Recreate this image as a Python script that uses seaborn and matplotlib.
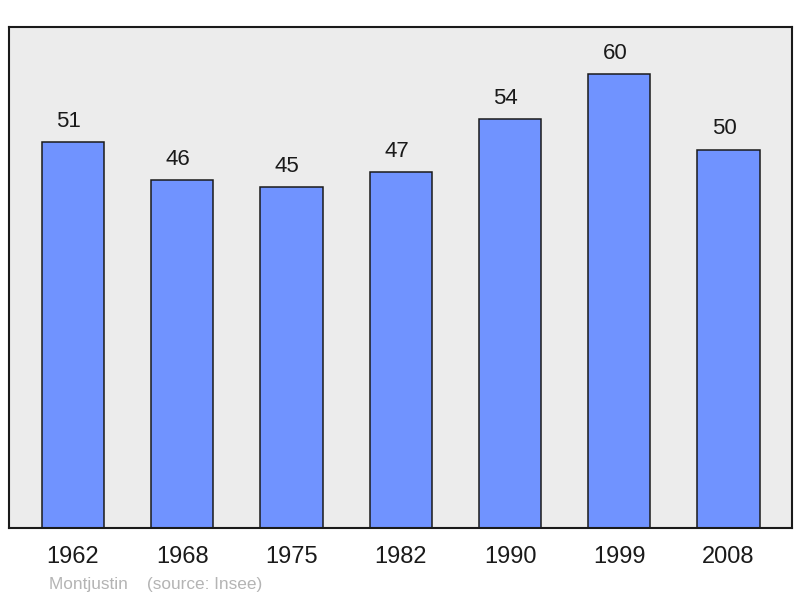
import matplotlib
matplotlib.use("Agg")
import matplotlib.pyplot as plt
import seaborn as sns
import pandas as pd

years = ["1962", "1968", "1975", "1982", "1990", "1999", "2008"]
population = [51, 46, 45, 47, 54, 60, 50]

sns.set_style("white")
plt.rcParams['font.family'] = ['Liberation Sans', 'DejaVu Sans']

df = pd.DataFrame({'year': years, 'pop': population})

fig = plt.figure(figsize=(8, 5.98), dpi=100)
ax = fig.add_axes([9/800, 70/598, 783/800, 501/598])
ax.set_facecolor('#ececec')

sns.barplot(x='year', y='pop', data=df, ax=ax, color='#7093ff', saturation=1,
            width=0.57, edgecolor='#1a1a1a', linewidth=1.1)

for i, v in enumerate(population):
    ax.annotate(str(v), (i, v), xytext=(-3, 11), textcoords='offset points',
                ha='center', va='baseline', fontsize=16, color='#1a1a1a')

ax.set_xlim(-0.585, 6.58)
ax.set_ylim(0, 66.2)
ax.set_yticks([])
ax.set_xlabel('')
ax.set_ylabel('')
ax.tick_params(axis='x', length=0, pad=13, labelsize=17, colors='#1a1a1a')
for s in ax.spines.values():
    s.set_visible(True)
    s.set_color('#1a1a1a')
    s.set_linewidth(1.5)

fig.text(49/800, 1 - 584/598, 'Montjustin    (source: Insee)', fontsize=12.4,
         color='#b4b4b4', va='center', ha='left')

fig.savefig('out.png', dpi=100)
